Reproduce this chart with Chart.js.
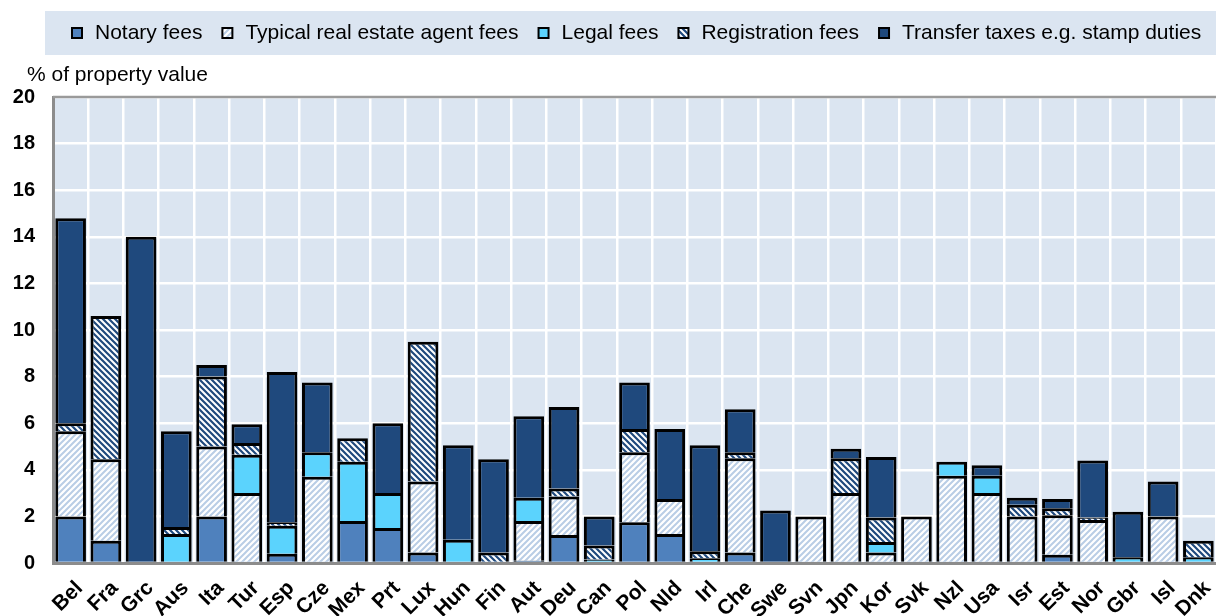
<!DOCTYPE html>
<html><head><meta charset="utf-8">
<script src="https://cdn.jsdelivr.net/npm/chart.js@4/dist/chart.umd.min.js"></script>
<style>html,body{margin:0;padding:0;background:#fff}#wrap{width:1216px;height:616px}</style>
</head><body><div id="wrap"><canvas id="c" width="1216" height="616"></canvas></div>
<script>
const categories = ["Bel","Fra","Grc","Aus","Ita","Tur","Esp","Cze","Mex","Prt","Lux","Hun","Fin","Aut","Deu","Can","Pol","Nld","Irl","Che","Swe","Svn","Jpn","Kor","Svk","Nzl","Usa","Isr","Est","Nor","Gbr","Isl","Dnk"];
const seriesNames = ["Notary fees","Typical real estate agent fees","Legal fees","Registration fees","Transfer taxes e.g. stamp duties"];
const notaryFees       = [2.0,0.95,0,0,2.0,0,0.4,0,1.8,1.5,0.45,0,0,0.1,1.2,0,1.75,1.25,0,0.45,0,0,0,0,0,0,0,0,0.35,0,0,0,0];
const agentFees        = [3.65,3.5,0,0,3.0,3.0,0,3.7,0,0,3.05,0,0,1.7,1.65,0,3.0,1.5,0,4.05,0,2.0,3.0,0.45,2.0,3.75,3.0,2.0,1.7,1.85,0,2.0,0];
const legalFees        = [0,0,0,1.25,0,1.65,1.2,1.05,2.55,1.5,0,1.0,0,1.0,0,0.15,0,0,0.2,0,0,0,0,0.45,0,0.6,0.75,0,0,0,0.25,0,0.25];
const registrationFees = [0.35,6.15,0,0.3,3.0,0.5,0.15,0,1.0,0,6.0,0,0.45,0,0.35,0.6,1.0,0,0.3,0.25,0,0,1.5,1.05,0,0,0,0.5,0.3,0.1,0,0,0.7];
const transferTaxes    = [8.8,0,14.0,4.1,0.5,0.8,6.45,3.0,0,3.0,0,4.05,4.0,3.5,3.5,1.25,2.0,3.0,4.55,1.85,2.25,0,0.4,2.6,0,0,0.45,0.3,0.4,2.45,1.95,1.5,0];
const yMin = 0, yMax = 20, yStep = 2;
const yTitle = "% of property value";

const canvas = document.getElementById('c');
const ctx = canvas.getContext('2d');
function stripes(bg, fg, dir, size, lw) {
  const c = document.createElement('canvas');
  c.width = size; c.height = size;
  const g = c.getContext('2d');
  g.fillStyle = bg; g.fillRect(0, 0, size, size);
  g.strokeStyle = fg; g.lineWidth = lw; g.beginPath();
  for (let k = -size; k <= size; k += size) {
    if (dir === '\\') { g.moveTo(k - 1, -1); g.lineTo(k + size + 1, size + 1); }
    else { g.moveTo(k - 1, size + 1); g.lineTo(k + size + 1, -1); }
  }
  g.stroke();
  return ctx.createPattern(c, 'repeat');
}
const FONT = "'Liberation Sans', Arial, sans-serif";
const regPattern = stripes('#ffffff', '#1f497d', '\\', 6, 2.2);
const agentPattern = stripes('#ffffff', '#b9cde5', '/', 6, 2.0);
const fills = ['#4f81bd', agentPattern, '#5bd3fd', regPattern, '#1f497d'];
const seriesData = [notaryFees, agentFees, legalFees, registrationFees, transferTaxes];

const datasets = seriesData.map((arr, i) => ({
  label: seriesNames[i],
  data: arr.map(v => v > 0 ? v : null),
  backgroundColor: fills[i],
  borderColor: '#000000',
  borderWidth: 3,
  borderSkipped: 'start',
  barPercentage: 0.87,
  categoryPercentage: 1.0,
  stack: 's'
}));

const bgPlugin = {
  id: 'bg',
  beforeDraw(chart) {
    const a = chart.chartArea, c = chart.ctx;
    c.save();
    c.fillStyle = '#dbe5f1';
    c.fillRect(a.left, a.top, a.right - a.left, a.bottom - a.top);
    c.restore();
  },
  afterDraw(chart) {
    const a = chart.chartArea, c = chart.ctx;
    c.save();
    c.strokeStyle = '#9a9a9a'; c.lineWidth = 2.5;
    c.beginPath(); c.moveTo(a.left, a.top); c.lineTo(a.right, a.top); c.stroke();
    c.fillStyle = '#dbe5f1';
    c.fillRect(45, 11, 1171, 44);
    c.font = '21px ' + FONT;
    c.textBaseline = 'middle'; c.textAlign = 'left';
    let x = 72;
    chart.data.datasets.forEach(ds => {
      c.fillStyle = ds.backgroundColor;
      c.fillRect(x, 28, 10, 10);
      c.strokeStyle = '#000'; c.lineWidth = 2;
      c.strokeRect(x, 28, 10, 10);
      c.fillStyle = '#000';
      c.fillText(ds.label, x + 23, 33);
      x += 23 + c.measureText(ds.label).width + 20;
    });
    c.font = '21px ' + FONT;
    c.fillStyle = '#000';
    c.fillText(yTitle, 27, 75);
    c.restore();
  }
};

new Chart(canvas, {
  type: 'bar',
  data: { labels: categories, datasets },
  options: {
    responsive: false,
    animation: false,
    devicePixelRatio: 1,
    layout: { padding: { top: 97, right: 0, left: 0, bottom: 0 } },
    plugins: { legend: { display: false }, tooltip: { enabled: false } },
    scales: {
      x: {
        stacked: true,
        offset: true,
        grid: { color: '#ffffff', lineWidth: 2.5, drawTicks: false, offset: true },
        border: { color: '#8c8c8c', width: 3 },
        ticks: { color: '#000', font: { family: FONT, size: 21, weight: 'bold' }, minRotation: 45, maxRotation: 45, autoSkip: false, padding: 13, labelOffset: 9 },
        afterFit(s) { s.height = 53; s.paddingLeft = 0; s.paddingRight = 0; }
      },
      y: {
        stacked: true,
        min: yMin, max: yMax,
        grid: { color: '#ffffff', lineWidth: 2.5, drawTicks: false },
        border: { color: '#8c8c8c', width: 3 },
        ticks: { stepSize: yStep, color: '#000', font: { family: FONT, size: 20, weight: 'bold' }, padding: 18 },
        afterFit(s) { s.width = 53; s.paddingTop = 0; s.paddingBottom = 0; }
      }
    }
  },
  plugins: [bgPlugin]
});
</script></body></html>
